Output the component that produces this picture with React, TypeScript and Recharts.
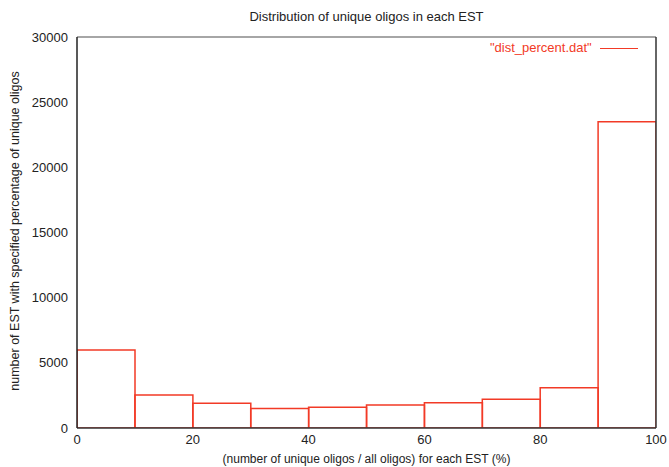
import React from "react";
import { Bar, BarChart, XAxis, YAxis } from "recharts";

const binMids = [5, 15, 25, 35, 45, 55, 65, 75, 85, 95];
const binCounts = [5980, 2540, 1890, 1500, 1600, 1760, 1940, 2200, 3080, 23500];
const xTicks = [0, 20, 40, 60, 80, 100];
const yTicks = [0, 5000, 10000, 15000, 20000, 25000, 30000];

const data = binMids.map((mid, i) => ({ mid, count: binCounts[i] }));

const RED = "#f23a26";
const FONT = "'Liberation Sans', Arial, sans-serif";
const TICK = { stroke: "#222", strokeWidth: 1.5 };

export default function App() {
  return (
    <div style={{ position: "relative", width: 669, height: 467, background: "#fff", fontFamily: FONT }}>
      <style>{"body{margin:0}"}</style>
      <BarChart
        width={669}
        height={467}
        data={data}
        margin={{ top: 37, right: 13, left: 0, bottom: 0 }}
        barCategoryGap={0}
        style={{ position: "absolute", top: 0, left: 0 }}
      >
        <XAxis
          xAxisId="x"
          dataKey="mid"
          type="number"
          domain={[0, 100]}
          allowDataOverflow
          ticks={xTicks}
          interval={0}
          height={39}
          axisLine={{ stroke: "#333", strokeWidth: 1.5 }}
          tickLine={false}
          tickSize={0}
          tickMargin={7}
          tick={{ fill: "#222", fontSize: 13, fontFamily: FONT }}
        />
        <XAxis
          xAxisId="xin"
          dataKey="mid"
          type="number"
          domain={[0, 100]}
          allowDataOverflow
          ticks={xTicks}
          interval={0}
          mirror
          height={1}
          axisLine={false}
          tickLine={TICK}
          tickSize={6}
          tick={false}
        />
        <XAxis
          xAxisId="xtop"
          dataKey="mid"
          orientation="top"
          type="number"
          domain={[0, 100]}
          allowDataOverflow
          ticks={xTicks}
          interval={0}
          mirror
          height={1}
          axisLine={{ stroke: "#888", strokeWidth: 1.5 }}
          tickLine={TICK}
          tickSize={6}
          tick={false}
        />
        <YAxis
          yAxisId="y"
          dataKey="count"
          domain={[0, 30000]}
          allowDataOverflow
          ticks={yTicks}
          interval={0}
          width={77}
          axisLine={{ stroke: "#222", strokeWidth: 1.5 }}
          tickLine={false}
          tickSize={0}
          tickMargin={9}
          tick={{ fill: "#222", fontSize: 13, fontFamily: FONT }}
        />
        <YAxis
          yAxisId="yin"
          dataKey="count"
          domain={[0, 30000]}
          allowDataOverflow
          ticks={yTicks}
          interval={0}
          mirror
          width={1}
          axisLine={false}
          tickLine={TICK}
          tickSize={6}
          tick={false}
        />
        <YAxis
          yAxisId="yright"
          dataKey="count"
          orientation="right"
          domain={[0, 30000]}
          allowDataOverflow
          ticks={yTicks}
          interval={0}
          mirror
          width={1}
          axisLine={{ stroke: "#333", strokeWidth: 1.5 }}
          tickLine={TICK}
          tickSize={6}
          tick={false}
        />
        <Bar
          xAxisId="x"
          yAxisId="y"
          dataKey="count"
          fill="none"
          stroke={RED}
          strokeWidth={1.5}
          isAnimationActive={false}
        />
      </BarChart>
      <div style={{ position: "absolute", top: 9, left: 77, width: 579, textAlign: "center", fontSize: 13, color: "#222" }}>
        Distribution of unique oligos in each EST
      </div>
      <div style={{ position: "absolute", left: 15, top: 231, width: 0, height: 0 }}>
        <div
          style={{
            position: "absolute",
            left: 0,
            top: 0,
            transform: "translate(-50%, -50%) rotate(-90deg)",
            whiteSpace: "nowrap",
            fontSize: 12.5,
            lineHeight: "14px",
            color: "#222",
          }}
        >
          number of EST with specified percentage of unique oligos
        </div>
      </div>
      <div style={{ position: "absolute", top: 452, left: 77, width: 579, textAlign: "center", fontSize: 12, color: "#222" }}>
        (number of unique oligos / all oligos) for each EST (%)
      </div>
      <div
        style={{
          position: "absolute",
          top: 40,
          left: 490,
          display: "flex",
          alignItems: "center",
          color: RED,
          fontSize: 13,
          lineHeight: "16px",
        }}
      >
        <span>"dist_percent.dat"</span>
        <span style={{ display: "inline-block", width: 38, height: 0, borderTop: `1.5px solid ${RED}`, marginLeft: 8 }} />
      </div>
    </div>
  );
}
